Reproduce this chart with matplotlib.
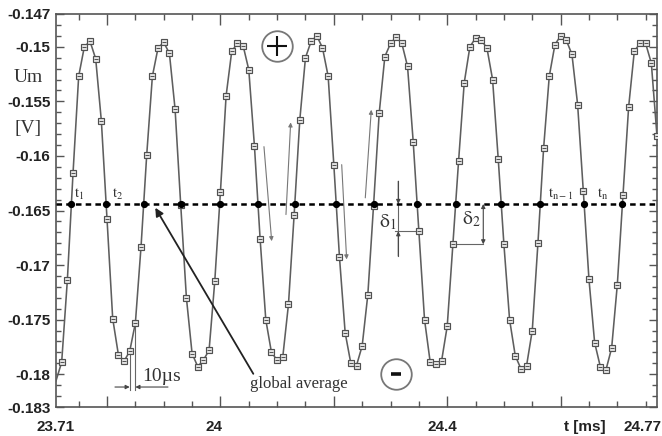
import numpy as np
import matplotlib
matplotlib.use("Agg")
import matplotlib.pyplot as plt
from matplotlib import transforms as mtransforms
from matplotlib.ticker import MultipleLocator

# ---------------- data ----------------
# sampled voltage (V), one sample every 10 us starting at t = 23.71 ms
voltage = [
    -0.1806,
    -0.1789, -0.1714, -0.1616, -0.1527, -0.1500, -0.1495, -0.1511, -0.1568, -0.1658, -0.1749,
    -0.1782, -0.1788, -0.1779, -0.1753, -0.1683, -0.1599, -0.1527, -0.1501, -0.1496, -0.1506,
    -0.1557, -0.1645, -0.1730, -0.1781, -0.1793, -0.1787, -0.1778, -0.1715, -0.1633, -0.1545,
    -0.1504, -0.1497, -0.1499, -0.1521, -0.1591, -0.1676, -0.1750, -0.1780, -0.1787, -0.1784,
    -0.1736, -0.1654, -0.1567, -0.1510, -0.1495, -0.1490, -0.1501, -0.1527, -0.1608, -0.1693,
    -0.1762, -0.1790, -0.1792, -0.1774, -0.1727, -0.1646, -0.1561, -0.1509, -0.1497, -0.1491,
    -0.1497, -0.1518, -0.1587, -0.1669, -0.1750, -0.1789, -0.1791, -0.1788, -0.1756, -0.1681,
    -0.1605, -0.1533, -0.1500, -0.1492, -0.1494, -0.1501, -0.1530, -0.1603, -0.1681, -0.1750,
    -0.1783, -0.1795, -0.1792, -0.1760, -0.1680, -0.1593, -0.1527, -0.1498, -0.1490, -0.1494,
    -0.1507, -0.1553, -0.1632, -0.1713, -0.1771, -0.1793, -0.1796, -0.1776, -0.1718, -0.1636,
    -0.1555, -0.1504, -0.1497, -0.1497, -0.1515, -0.1582,
]
t_start = 23.71
dt = 0.01
times = np.round(t_start + dt * np.arange(len(voltage)), 4)
global_average = -0.1644

x_range = (23.71, 24.77)
y_range = (-0.183, -0.147)
y_tick_values = [-0.183, -0.18, -0.175, -0.17, -0.165, -0.16, -0.155, -0.15, -0.147]
y_tick_labels = ["-0.183", "-0.18", "-0.175", "-0.17", "-0.165", "-0.16", "-0.155", "-0.15", "-0.147"]
x_major_ticks = [23.8, 24.0, 24.2, 24.4, 24.6]
x_label_values = [23.71, 24.0, 24.4, 24.643, 24.77]
x_label_texts = ["23.71", "24", "24.4", "t [ms]", "24.77"]
x_label_dx = [0, -6, -5, 0, 4]
x_label_ha = ["center", "center", "center", "center", "right"]

# indices into the crossing list that carry t-labels
crossing_labels = [(0, r"$\mathrm{t}_1$", 3), (1, r"$\mathrm{t}_2$", 6),
                   (12, r"$\mathrm{t}_{\mathrm{n-1}}$", 8), (13, r"$\mathrm{t}_{\mathrm{n}}$", 13)]

# ---------------- style ----------------
plt.rcParams["font.family"] = ["Liberation Sans", "DejaVu Sans"]
plt.rcParams["mathtext.fontset"] = "stix"
plt.rcParams["lines.scale_dashes"] = False

W, H = 662, 436
fig = plt.figure(figsize=(W / 100, H / 100), dpi=100)
L, R, T, B = 56, 657, 14, 407
ax = fig.add_axes([L / W, 1 - B / H, (R - L) / W, (B - T) / H])
ax.set_xlim(*x_range)
ax.set_ylim(*y_range)

spine_c = "#555555"
for s in ax.spines.values():
    s.set_color(spine_c)
    s.set_linewidth(1.2)

# curve
ax.plot(times, voltage, color="#5e5e5e", lw=1.15, zorder=3)
ax.plot(times[1:], voltage[1:], ls="none", marker="s", ms=4.5, mfc="#e4e4e4",
        mec="#505050", mew=0.85, zorder=4)
ax.plot(times[1:], voltage[1:], ls="none", marker="_", ms=3.0, mec="#505050",
        mew=0.7, zorder=5)

# global average
ax.axhline(global_average, color="black", lw=1.8, dashes=(4, 3), zorder=3.5)

# crossings
v = np.array(voltage)
cross_t = []
for i in range(len(v) - 1):
    a, b = v[i] - global_average, v[i + 1] - global_average
    if a * b < 0:
        cross_t.append(times[i] + (times[i + 1] - times[i]) * a / (a - b))
ax.plot(cross_t, [global_average] * len(cross_t), ls="none", marker="o", ms=4.2,
        color="black", zorder=6)

for idx, lab, dx in crossing_labels:
    tr = mtransforms.offset_copy(ax.transData, fig=fig, x=dx, y=2, units="dots")
    ax.text(cross_t[idx], global_average, lab, transform=tr, ha="left", va="bottom",
            fontsize=10.5, color="#333333", zorder=7)

# ticks
ax.set_yticks(y_tick_values)
ax.set_yticklabels(y_tick_labels)
ax.yaxis.set_minor_locator(MultipleLocator(0.001))
ax.set_xticks(x_major_ticks)
ax.xaxis.set_minor_locator(MultipleLocator(0.05))
ax.tick_params(axis="y", which="both", direction="in", left=True, right=True,
               color=spine_c, width=1.0, pad=4)
ax.tick_params(axis="y", which="major", length=5.5, labelsize=11, labelcolor="#222222")
ax.tick_params(axis="y", which="minor", length=3.8)
ax.tick_params(axis="x", which="both", direction="in", top=True, bottom=True,
               labelbottom=False, color=spine_c, width=1.0)
ax.tick_params(axis="x", which="major", length=8)
ax.tick_params(axis="x", which="minor", length=4.3)
for lab in ax.get_yticklabels():
    lab.set_fontweight("bold")

blend = mtransforms.blended_transform_factory(ax.transData, ax.transAxes)
for xv, txt, dx, ha in zip(x_label_values, x_label_texts, x_label_dx, x_label_ha):
    tr = mtransforms.offset_copy(blend, fig=fig, x=dx, y=-20, units="dots")
    ax.text(xv, 0, txt, transform=tr, ha=ha, va="center", fontsize=11,
            fontweight="bold", color="#222222", clip_on=False)

# y-axis label
fig.text(28 / W, 1 - 77 / H, "Um", family="Liberation Serif", fontsize=14,
         ha="center", va="center", color="#333333")
fig.text(28 / W, 1 - 128 / H, "[V]", family="Liberation Serif", fontsize=14,
         ha="center", va="center", color="#333333")

# + / - circles
plus_pos = (24.10, -0.1499)
minus_pos = (24.309, -0.1800)
for pos, sym, ms, mew in [(plus_pos, "+", 14, 1.5), (minus_pos, "_", 7.5, 2.6)]:
    ax.plot(*pos, marker="o", ms=22, mfc="white", mec="#777777", mew=1.3, zorder=7)
    ax.plot(*pos, marker=sym, ms=ms, mec="#111111", mew=mew, zorder=8)

# thin gray arrows
thin = dict(arrowstyle="-|>", color="#777777", lw=0.8, mutation_scale=6,
            shrinkA=0, shrinkB=0)
thin_arrows = [((24.0768, -0.15915), (24.0904, -0.16781)),
               ((24.1156, -0.16537), (24.1239, -0.15693)),
               ((24.2139, -0.16080), (24.2226, -0.16948)),
               ((24.2555, -0.16384), (24.2661, -0.15577))]
for start, end in thin_arrows:
    ax.annotate("", xy=end, xytext=start, arrowprops=thin, zorder=7)

# global average arrow
ax.annotate("", xy=(23.8851, -0.16475), xytext=(24.058, -0.17996),
            arrowprops=dict(arrowstyle="-|>", color="#222222", lw=1.3,
                            mutation_scale=12, shrinkA=0, shrinkB=0), zorder=7)
ax.text(24.0513, -0.18126, "global average", family="Liberation Serif",
        fontsize=12, color="#333333", ha="left", va="baseline")

# 10 us annotation
k_a, k_b = 13, 14
y_foot = -0.18144
y_arr = -0.18117
ann_c = "#666666"
for k in (k_a, k_b):
    ax.plot([times[k], times[k]], [voltage[k], y_foot], color=ann_c, lw=0.8, zorder=2)
small = dict(arrowstyle="-|>", color="#444444", lw=0.8, mutation_scale=6,
             shrinkA=0, shrinkB=0)
ax.annotate("", xy=(times[k_a], y_arr), xytext=(23.814, y_arr), arrowprops=small)
ax.annotate("", xy=(times[k_b], y_arr), xytext=(23.9075, y_arr), arrowprops=small)
ax.text(23.8617, -0.18062, "10\u00b5s", family="Liberation Serif", fontsize=14,
        color="#333333", ha="left", va="baseline")

# delta 1
k_d1 = 64
x_d1 = 24.3137
ax.plot([x_d1, x_d1], [-0.16232, -0.16918], color=ann_c, lw=0.8, zorder=2)
ax.plot([24.3079, times[k_d1]], [voltage[k_d1], voltage[k_d1]], color=ann_c, lw=0.8, zorder=2)
ax.annotate("", xy=(x_d1, global_average), xytext=(x_d1, -0.16232), arrowprops=small)
ax.annotate("", xy=(x_d1, voltage[k_d1]), xytext=(x_d1, -0.16918), arrowprops=small)
ax.text(24.2955, -0.1661, r"$\mathrm{\delta}_1$", fontsize=14, color="#333333",
        ha="center", va="center")

# delta 2
k_d2 = 70
x_d2 = 24.4636
ax.plot([times[k_d2], x_d2], [voltage[k_d2], voltage[k_d2]], color=ann_c, lw=0.8, zorder=2)
ax.annotate("", xy=(x_d2, voltage[k_d2]), xytext=(x_d2, global_average),
            arrowprops=dict(arrowstyle="<|-|>", color="#444444", lw=0.8,
                            mutation_scale=6, shrinkA=0, shrinkB=0))
ax.text(24.442, -0.1658, r"$\mathrm{\delta}_2$", fontsize=14, color="#333333",
        ha="center", va="center")

fig.savefig("out.png", dpi=100)
